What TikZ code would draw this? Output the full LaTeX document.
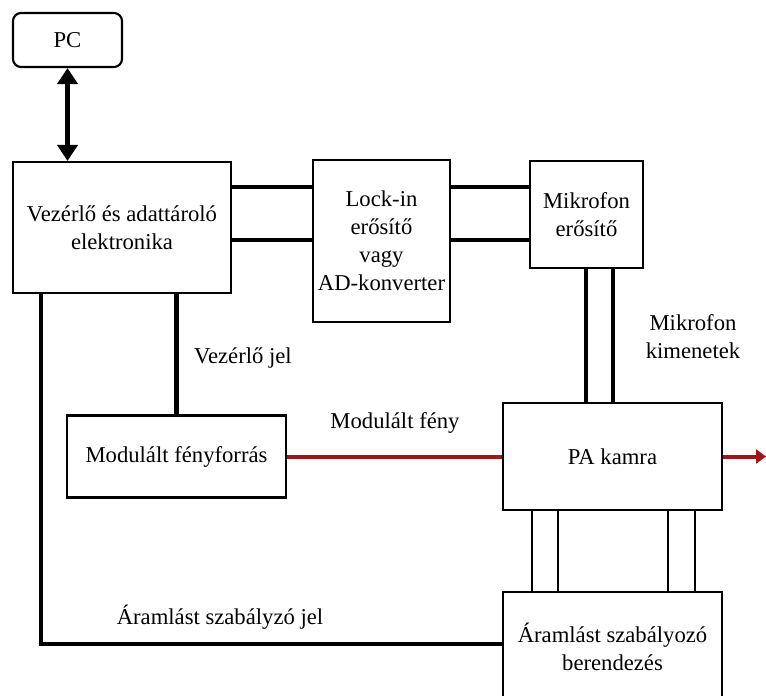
\documentclass[tikz,border=0pt]{standalone}
\usepackage{fontspec}
\setmainfont{Liberation Serif}
\usetikzlibrary{arrows.meta}
\definecolor{fenypiros}{RGB}{160,22,22}
\tikzset{
  doboz/.style={draw, line width=1.6pt, align=center, inner sep=0pt},
  felirat/.style={align=center, inner sep=0pt},
  busz/.style={line width=3.6pt},
  vezetek/.style={line width=1.8pt},
  feny/.style={line width=3pt, color=fenypiros},
}
\begin{document}
\begin{tikzpicture}[x=.75pt, y=-.75pt, font=\fontsize{17}{21}\selectfont]
\useasboundingbox (0,0) rectangle (766,695);
% dobozok
\node[doboz, rounded corners=6pt, minimum width=81.75pt, minimum height=40.5pt] (pc) at (67.5,40) {PC};
\node[doboz, minimum width=163.5pt, minimum height=98.25pt] (ctrl) at (122,227.5) {Vezérlő és adattároló\\elektronika};
\node[doboz, minimum width=102.75pt, minimum height=121.5pt] (lockin) at (381.5,241) {Lock-in\\erősítő\\vagy\\AD-konverter};
\node[doboz, minimum width=84.75pt, minimum height=80.25pt] (micamp) at (586.5,214.5) {Mikrofon\\erősítő};
\node[doboz, minimum width=164.25pt, minimum height=80.25pt] (pa) at (612.5,456.5) {PA kamra};
\node[doboz, minimum width=164.25pt, minimum height=61.5pt] (light) at (176.5,456.5) {Modulált fényforrás};
\node[doboz, minimum width=164.25pt, minimum height=81.75pt] (flow) at (612.5,646.5) {Áramlást szabályozó\\berendezés};
% feliratok
\node[felirat] (vjel) at (243,358) {Vezérlő jel};
\node[felirat] (mfeny) at (395,423) {Modulált fény};
\node[felirat] (mkim) at (693,337) {Mikrofon\\kimenetek};
\node[felirat] (ajel) at (220,617) {Áramlást szabályzó jel};
\coordinate (ki) at (766,456.5);
% kapcsolatok
\draw[busz, {Triangle[length=12pt,width=15pt]}-{Triangle[length=12pt,width=15pt]}] (pc.south) -- (ctrl.north -| pc.south);
\foreach \y in {187,240}{
  \draw[busz] (ctrl.east |- 0,\y) -- (lockin.west |- 0,\y);
  \draw[busz] (lockin.east |- 0,\y) -- (micamp.west |- 0,\y);
}
\foreach \x in {586,613}
  \draw[line width=3pt] (micamp.south -| \x,0) -- (pa.north -| \x,0);
\foreach \x in {532,558,668,695}
  \draw[vezetek] (pa.south -| \x,0) -- (flow.north -| \x,0);
\draw[busz] (ctrl.south -| light.north) -- (light.north);
\draw[busz] (ctrl.south -| 41,0) |- (flow.west |- 0,644);
\draw[feny] (light.east) -- (pa.west);
\draw[feny, -{Triangle[length=7.5pt,width=10.5pt]}] (pa.east) -- (ki);
\end{tikzpicture}
\end{document}
